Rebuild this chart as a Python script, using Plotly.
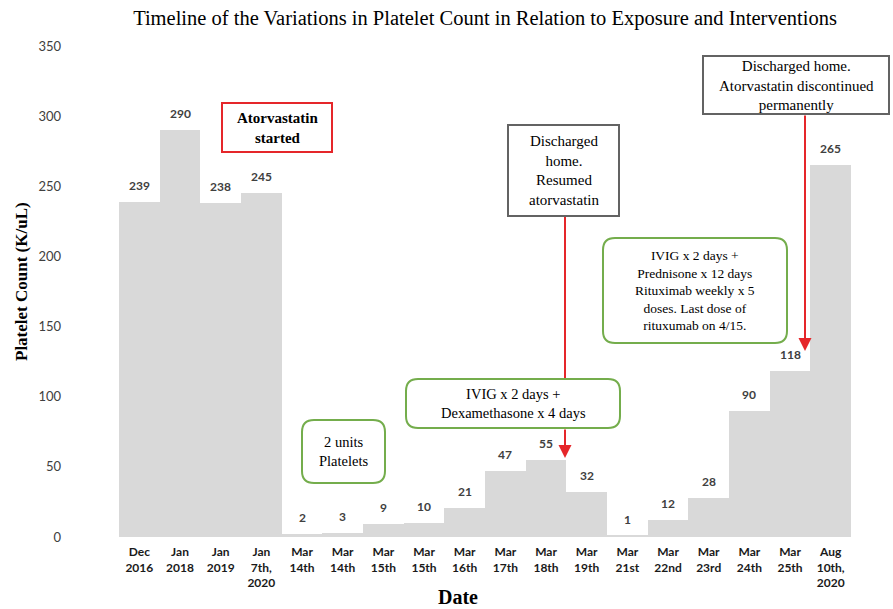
import plotly.graph_objects as go

# ---- data ----
date_labels = ["Dec<br>2016", "Jan<br>2018", "Jan<br>2019", "Jan<br>7th,<br>2020",
               "Mar<br>14th", "Mar<br>14th", "Mar<br>15th", "Mar<br>15th", "Mar<br>16th",
               "Mar<br>17th", "Mar<br>18th", "Mar<br>19th", "Mar<br>21st", "Mar<br>22nd",
               "Mar<br>23rd", "Mar<br>24th", "Mar<br>25th", "Aug<br>10th,<br>2020"]
platelet_counts = [239, 290, 238, 245, 2, 3, 9, 10, 21, 47, 55, 32, 1, 12, 28, 90, 118, 265]
y_tick_values = [0, 50, 100, 150, 200, 250, 300, 350]

positions = list(range(len(date_labels)))

# ---- geometry helpers (plot area in pixels) ----
W, H = 893, 609
PL, PR, PT, PB = 119, 851, 46, 537


def px(x):
    return (x - PL) / (PR - PL)


def py(y):
    return (PB - y) / (PB - PT)


def rounded_path(x0, y0, x1, y1, r):
    cmds = [
        ("M", [(x0 + r, y0)]), ("L", [(x1 - r, y0)]), ("Q", [(x1, y0), (x1, y0 + r)]),
        ("L", [(x1, y1 - r)]), ("Q", [(x1, y1), (x1 - r, y1)]),
        ("L", [(x0 + r, y1)]), ("Q", [(x0, y1), (x0, y1 - r)]),
        ("L", [(x0, y0 + r)]), ("Q", [(x0, y0), (x0 + r, y0)]),
    ]
    s = ""
    for c, ps in cmds:
        s += c + " " + " ".join(f"{px(a):.5f},{py(b):.5f}" for a, b in ps) + " "
    return s + "Z"


SERIF = "Liberation Serif, Times New Roman, serif"
SANS = "Lato, Open Sans, sans-serif"
RED = "#e5262a"
GREEN = "#74ad4c"
GREY = "#636363"

fig = go.Figure()
fig.add_trace(go.Bar(
    x=positions, y=platelet_counts,
    marker=dict(color="#d9d9d9", line=dict(width=0)),
    width=1.0, hoverinfo="y",
))

annotations = []
for xi, v in zip(positions, platelet_counts):
    annotations.append(dict(
        x=xi, y=v, xref="x", yref="y", text=f"<b>{v}</b>", showarrow=False,
        yanchor="bottom", yshift=7,
        font=dict(family=SANS, size=12, color="#404040"),
    ))

shapes = []
# red connector line (behind the green box)
shapes.append(dict(type="line", xref="paper", yref="paper",
                   x0=px(565), x1=px(565), y0=py(217), y1=py(380),
                   line=dict(color=RED, width=2)))

# square boxes
square_boxes = [
    ((222, 103, 332, 152), RED, "<b>Atorvastatin<br>started</b>", 15),
    ((508, 125, 619, 216), GREY, "Discharged<br>home.<br>Resumed<br>atorvastatin", 15),
    ((703, 56, 889, 114), GREY, "Discharged home.<br>Atorvastatin discontinued<br>permanently", 15),
]
rounded_boxes = [
    ((302, 420, 385, 483), "2 units<br>Platelets", 14.5),
    ((406, 379, 620, 428), "IVIG x 2 days +<br>Dexamethasone x 4 days", 14.5),
    ((603, 238, 787, 343), "IVIG x 2 days +<br>Prednisone x 12 days<br>Rituximab weekly x 5<br>doses. Last dose of<br>rituxumab on 4/15.", 13.5),
]
for (x0, y0, x1, y1), col, txt, fs in square_boxes:
    shapes.append(dict(type="rect", xref="paper", yref="paper",
                       x0=px(x0), x1=px(x1), y0=py(y1), y1=py(y0),
                       fillcolor="white", line=dict(color=col, width=2)))
    annotations.append(dict(x=px((x0 + x1) / 2), y=py((y0 + y1) / 2), xref="paper", yref="paper",
                            text=txt, showarrow=False, xanchor="center", yanchor="middle",
                            font=dict(family=SERIF, size=fs, color="black")))
for (x0, y0, x1, y1), txt, fs in rounded_boxes:
    shapes.append(dict(type="path", xref="paper", yref="paper",
                       path=rounded_path(x0, y0, x1, y1, 12),
                       fillcolor="white", line=dict(color=GREEN, width=2)))
    annotations.append(dict(x=px((x0 + x1) / 2), y=py((y0 + y1) / 2), xref="paper", yref="paper",
                            text=txt, showarrow=False, xanchor="center", yanchor="middle",
                            font=dict(family=SERIF, size=fs, color="black")))

# arrows
annotations.append(dict(x=px(565), y=py(458), xref="paper", yref="paper", text="",
                        showarrow=True, ax=0, ay=-30, arrowhead=2, arrowsize=1.3,
                        arrowwidth=2, arrowcolor=RED))
annotations.append(dict(x=px(805), y=py(351), xref="paper", yref="paper", text="",
                        showarrow=True, ax=0, ay=-237, arrowhead=2, arrowsize=1.3,
                        arrowwidth=2, arrowcolor=RED))

# axis titles
annotations.append(dict(x=px(458), y=py(597), xref="paper", yref="paper",
                        text="<b>Date</b>", showarrow=False, xanchor="center", yanchor="middle",
                        font=dict(family=SERIF, size=20, color="black")))
annotations.append(dict(x=px(21), y=py(281), xref="paper", yref="paper",
                        text="<b>Platelet Count (K/uL)</b>", showarrow=False, textangle=-90,
                        xanchor="center", yanchor="middle",
                        font=dict(family=SERIF, size=17, color="black")))

fig.update_layout(
    width=W, height=H,
    margin=dict(l=PL, r=W - PR, t=PT, b=H - PB, autoexpand=False),
    paper_bgcolor="white", plot_bgcolor="white",
    showlegend=False, bargap=0,
    title=dict(text="Timeline of the Variations in Platelet Count in Relation to Exposure and Interventions",
               x=0.5, xref="paper", y=1 - 18 / H, yanchor="middle",
               font=dict(family=SERIF, size=20.5, color="black")),
    xaxis=dict(range=[-0.5, len(positions) - 0.5], tickmode="array",
               tickvals=positions, ticktext=date_labels,
               showgrid=False, zeroline=False, showline=False, ticks="",
               ticklabelstandoff=6,
               tickfont=dict(family=SANS, size=12, color="#1a1a1a", weight="bold"),
               fixedrange=True),
    yaxis=dict(range=[0, 350], tickmode="array", tickvals=y_tick_values,
               showgrid=False, zeroline=False, showline=False, ticks="",
               ticklabelstandoff=57,
               tickfont=dict(family=SANS, size=13, color="#404040"),
               fixedrange=True),
    shapes=shapes, annotations=annotations,
)

fig.write_html("out.html", config={"displayModeBar": False},
               post_script="document.body.style.margin='0px';")
